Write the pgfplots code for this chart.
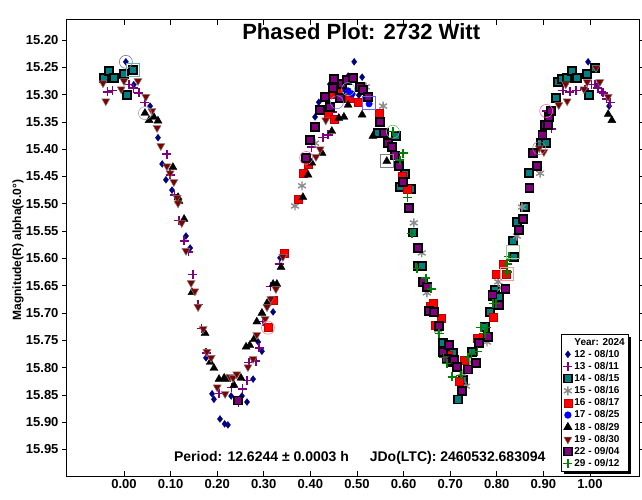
\documentclass[border=0pt]{standalone}
\usepackage{pgfplots}
\pgfplotsset{compat=1.18}
\usepackage{fontspec}
\setmainfont{Liberation Sans}
\usetikzlibrary{shadows}
\definecolor{c12}{HTML}{000080}
\definecolor{c13}{HTML}{800080}
\definecolor{c14}{HTML}{008080}
\definecolor{c15}{HTML}{8C8C8C}
\definecolor{c16}{HTML}{FF0000}
\definecolor{c17}{HTML}{0000FF}
\definecolor{c19}{HTML}{800000}
\definecolor{c22}{HTML}{800080}
\definecolor{c29}{HTML}{008000}
\pgfplotsset{
 ser/.style={only marks, legend image code/.code={\draw[mark repeat=2,mark phase=2] plot coordinates {(0pt,0pt) (4pt,0pt) (8pt,0pt)};}},
 hl/.style={only marks, forget plot, mark size=6.5pt, mark options={draw=#1, line width=0.6pt, fill=none}},
}
\begin{document}
\begin{tikzpicture}[x=1pt,y=1pt]
\path[use as bounding box] (-67,-24) rectangle (575,476);
\begin{axis}[
 at={(0,0)}, anchor=south west,
 scale only axis, width=572pt, height=456pt,
 xmin=-0.1223, xmax=1.1052, ymin=15.1634, ymax=15.9985, y dir=reverse,
 xtick={0,0.1,0.2,0.3,0.4,0.5,0.6,0.7,0.8,0.9,1.0},
 ytick={15.20,15.25,15.30,15.35,15.40,15.45,15.50,15.55,15.60,15.65,15.70,15.75,15.80,15.85,15.90,15.95},
 xtick align=inside, ytick align=outside,
 major tick length=5pt,
 tick style={black, line width=0.6pt},
 axis line style={line width=1pt},
 minor tick num=0,
 xticklabel style={/pgf/number format/.cd, fixed, fixed zerofill, precision=2, assume math mode=true},
 yticklabel style={/pgf/number format/.cd, fixed, fixed zerofill, precision=2, assume math mode=true},
 tick label style={font=\bfseries\fontsize{13}{13}\selectfont},
 ylabel={Magnitude(R) alpha(6.0°)},
 ylabel style={font=\bfseries\fontsize{12}{12}\selectfont, at={(axis description cs:-0.0857,0.4956)}, anchor=center},
 legend cell align=left,
 legend style={at={(0.982,0.311)}, anchor=north east, draw=black, line width=0.8pt, fill=white,
   font=\bfseries\fontsize{10}{11.6}\selectfont, inner sep=1.5pt, row sep=-0.6pt,
   drop shadow={shadow xshift=2.5pt, shadow yshift=-2.5pt, fill=black, opacity=1}},
]
\addlegendimage{empty legend}
\addlegendentry{Year: 2024}

\addplot[ser, color=c12, mark=diamond*, mark size=3.5pt, mark options={fill=c12, draw=c12, line width=0.3pt}] coordinates {
(0.004,15.240) (0.021,15.282) (0.056,15.321) (0.073,15.379) (0.082,15.427) (0.090,15.456) (0.103,15.475) (0.133,15.559) (0.142,15.581) (0.176,15.782) (0.189,15.848) (0.193,15.858) (0.206,15.894) (0.216,15.903) (0.223,15.905) (0.230,15.852) (0.253,15.852) (0.264,15.863) (0.277,15.821) (0.288,15.753) (0.296,15.770) (0.320,15.698) (0.335,15.599) (0.410,15.341) (0.418,15.314) (0.442,15.281) (0.459,15.286) (0.474,15.292) (0.481,15.266) (0.491,15.299) (0.494,15.240) (0.504,15.301) (0.511,15.268) (0.996,15.240) (1.017,15.282) (1.041,15.321)
};
\addlegendentry{12 - 08/10}

\addplot[ser, color=c13, mark=+, mark size=4.5pt, mark options={line width=1.3pt}] coordinates {
(-0.036,15.295) (-0.024,15.292) (0.011,15.282) (0.021,15.288) (0.032,15.297) (0.045,15.314) (0.092,15.409) (0.099,15.447) (0.109,15.484) (0.118,15.531) (0.129,15.568) (0.139,15.588) (0.148,15.630) (0.159,15.684) (0.167,15.729) (0.176,15.773) (0.204,15.847) (0.230,15.836) (0.245,15.863) (0.255,15.839) (0.264,15.823) (0.268,15.790) (0.283,15.788) (0.290,15.764) (0.298,15.716) (0.315,15.652) (0.333,15.610) (0.403,15.396) (0.427,15.378) (0.438,15.374) (0.448,15.332) (0.906,15.330) (0.918,15.363) (0.942,15.293) (0.957,15.295) (0.970,15.292) (0.989,15.290) (1.004,15.282) (1.011,15.282) (1.017,15.288) (1.024,15.295) (1.028,15.297) (1.036,15.308) (1.043,15.314)
};
\addlegendentry{13 - 08/11}

\addplot[ser, color=c14, mark=square*, mark size=4pt, mark options={fill=c14, draw=black, line width=1.5pt}] coordinates {
(-0.043,15.270) (-0.032,15.257) (-0.021,15.270) (0.000,15.262) (0.006,15.301) (0.019,15.255) (0.545,15.370) (0.584,15.376) (0.592,15.469) (0.603,15.445) (0.616,15.473) (0.620,15.553) (0.631,15.614) (0.639,15.614) (0.685,15.755) (0.706,15.773) (0.717,15.858) (0.727,15.823) (0.747,15.771) (0.775,15.726) (0.785,15.698) (0.792,15.669) (0.796,15.658) (0.805,15.671) (0.835,15.568) (0.837,15.597) (0.843,15.533) (0.861,15.506) (0.869,15.444) (0.895,15.389) (0.906,15.389) (0.927,15.306) (0.931,15.277) (0.940,15.271) (0.951,15.270) (0.961,15.257) (0.972,15.270) (0.994,15.262) (0.998,15.301) (1.011,15.251)
};
\addlegendentry{14 - 08/15}

\addplot[ser, color=c15, mark=asterisk, mark size=4.5pt, mark options={line width=1.4pt}] coordinates {
(0.367,15.504) (0.382,15.467) (0.410,15.389) (0.519,15.286) (0.556,15.321) (0.622,15.535) (0.639,15.590) (0.650,15.663) (0.674,15.731) (0.725,15.810) (0.734,15.834) (0.742,15.790) (0.779,15.753) (0.803,15.643) (0.811,15.654) (0.843,15.559) (0.854,15.506) (0.893,15.444)
};
\addlegendentry{15 - 08/16}

\addplot[ser, color=c16, mark=square*, mark size=4pt, mark options={fill=c16, draw=c16!75!black, line width=0.6pt}] coordinates {
(0.309,15.727) (0.320,15.676) (0.345,15.590) (0.373,15.491) (0.384,15.444) (0.395,15.427) (0.438,15.336) (0.446,15.299) (0.451,15.345) (0.459,15.297) (0.483,15.306) (0.502,15.314) (0.547,15.334) (0.597,15.449) (0.607,15.473) (0.657,15.687) (0.663,15.682) (0.667,15.722) (0.680,15.709) (0.697,15.777) (0.719,15.825) (0.730,15.786) (0.758,15.746) (0.770,15.744) (0.792,15.707) (0.800,15.629) (0.813,15.610) (0.820,15.629)
};
\addlegendentry{16 - 08/17}

\addplot[ser, color=c17, mark=*, mark size=3.2pt] coordinates {
(0.481,15.293) (0.489,15.299) (0.526,15.317)
};
\addlegendentry{17 - 08/25}

\addplot[ser, color=black, mark=triangle*, mark size=4.6pt] coordinates {
(0.045,15.334) (0.054,15.347) (0.064,15.341) (0.073,15.348) (0.105,15.433) (0.116,15.488) (0.118,15.495) (0.129,15.528) (0.146,15.662) (0.174,15.737) (0.185,15.790) (0.193,15.801) (0.204,15.821) (0.215,15.819) (0.221,15.821) (0.236,15.832) (0.251,15.819) (0.262,15.762) (0.270,15.759) (0.279,15.748) (0.285,15.716) (0.296,15.700) (0.307,15.682) (0.320,15.647) (0.328,15.647) (0.337,15.616) (0.384,15.488) (0.395,15.447) (0.403,15.425) (0.425,15.407) (0.446,15.367) (0.461,15.343) (0.472,15.341) (0.481,15.319) (0.511,15.337) (0.534,15.376) (0.564,15.422) (1.039,15.336) (1.047,15.347)
};
\addlegendentry{18 - 08/29}

\addplot[ser, color=c19, mark=triangle*, mark size=4.6pt, mark options={rotate=180, fill=c19, draw=gray, line width=0.5pt}] coordinates {
(-0.045,15.279) (-0.039,15.312) (-0.006,15.290) (0.000,15.275) (0.030,15.275) (0.047,15.304) (0.060,15.330) (0.071,15.361) (0.079,15.394) (0.092,15.431) (0.099,15.444) (0.107,15.460) (0.114,15.489) (0.116,15.499) (0.124,15.535) (0.133,15.586) (0.144,15.645) (0.152,15.660) (0.159,15.689) (0.170,15.729) (0.178,15.771) (0.187,15.782) (0.200,15.836) (0.217,15.848) (0.227,15.817) (0.234,15.819) (0.242,15.812) (0.266,15.799) (0.277,15.784) (0.285,15.740) (0.303,15.711) (0.307,15.689) (0.315,15.674) (0.326,15.656) (0.341,15.597) (0.412,15.414) (0.421,15.400) (0.433,15.347) (0.891,15.398) (0.901,15.405) (0.933,15.319) (0.948,15.281) (0.951,15.312) (0.987,15.290) (0.994,15.277) (1.013,15.251) (1.021,15.277) (1.039,15.304)
};
\addlegendentry{19 - 08/30}

\addplot[ser, color=c22, mark=square*, mark size=4pt, mark options={fill=c22, draw=black, line width=1.5pt}] coordinates {
(0.245,15.860) (0.391,15.416) (0.399,15.383) (0.410,15.359) (0.421,15.328) (0.431,15.304) (0.442,15.323) (0.448,15.288) (0.451,15.271) (0.464,15.306) (0.468,15.281) (0.479,15.273) (0.491,15.270) (0.506,15.286) (0.513,15.292) (0.524,15.304) (0.549,15.350) (0.558,15.370) (0.567,15.389) (0.575,15.396) (0.582,15.412) (0.590,15.431) (0.599,15.460) (0.612,15.508) (0.631,15.581) (0.642,15.643) (0.650,15.652) (0.655,15.696) (0.665,15.698) (0.676,15.724) (0.685,15.771) (0.693,15.784) (0.697,15.759) (0.704,15.790) (0.708,15.786) (0.715,15.799) (0.725,15.843) (0.738,15.803) (0.755,15.792) (0.762,15.755) (0.781,15.744) (0.791,15.667) (0.805,15.685) (0.819,15.656) (0.848,15.548) (0.856,15.528) (0.870,15.471) (0.878,15.407) (0.886,15.431) (0.898,15.374) (0.903,15.356) (0.910,15.356) (0.912,15.341) (0.916,15.330)
};
\addlegendentry{22 - 09/04}

\addplot[ser, color=c29, mark=+, mark size=4.5pt, mark options={line width=1.3pt}] coordinates {
(0.577,15.368) (0.592,15.420) (0.599,15.407) (0.609,15.489) (0.618,15.555) (0.629,15.619) (0.648,15.636) (0.659,15.656) (0.676,15.738) (0.685,15.781) (0.693,15.792) (0.704,15.817) (0.723,15.814) (0.738,15.782) (0.745,15.775) (0.758,15.771) (0.766,15.726) (0.775,15.737) (0.779,15.727) (0.792,15.682) (0.798,15.682) (0.822,15.610) (0.822,15.625) (0.826,15.597)
};
\addlegendentry{29 - 09/12}

% highlight rings
\addplot[hl=c12!55, mark=o] coordinates {(0.004,15.240)};
\addplot[hl=gray!70, mark=o] coordinates {(0.045,15.334)};
\addplot[hl=red!45, mark=o] coordinates {(0.309,15.727)};
\addplot[hl=magenta!60, mark=o] coordinates {(0.391,15.416) (0.906,15.330)};
\addplot[hl=blue!50, mark=o] coordinates {(0.457,15.314)};
\addplot[hl=c14!55, mark=o] coordinates {(0.481,15.290)};
\addplot[hl=c29!55, mark=o] coordinates {(0.577,15.368)};
\addplot[hl=c19!55, mark=o] coordinates {(0.891,15.398)};
\addplot[hl=c14!60, mark=square] coordinates {(0.019,15.255)};
\addplot[hl=blue!60, mark=square] coordinates {(0.526,15.315)};
\addplot[hl=gray, mark=square] coordinates {(0.564,15.422)};
\addplot[hl=c29!40, mark=square] coordinates {(0.835,15.588)};
\addplot[hl=red!40, mark=square] coordinates {(0.822,15.629)};

\node[font=\bfseries\fontsize{22}{22}\selectfont] at (axis cs:0.509,15.184) {Phased Plot: 2732 Witt};
\node[font=\bfseries\fontsize{14}{14}\selectfont] at (axis cs:0.506,15.9656) {Period: 12.6244 ± 0.0003 h\hspace{21pt}JDo(LTC): 2460532.683094};
\end{axis}
\end{tikzpicture}
\end{document}
